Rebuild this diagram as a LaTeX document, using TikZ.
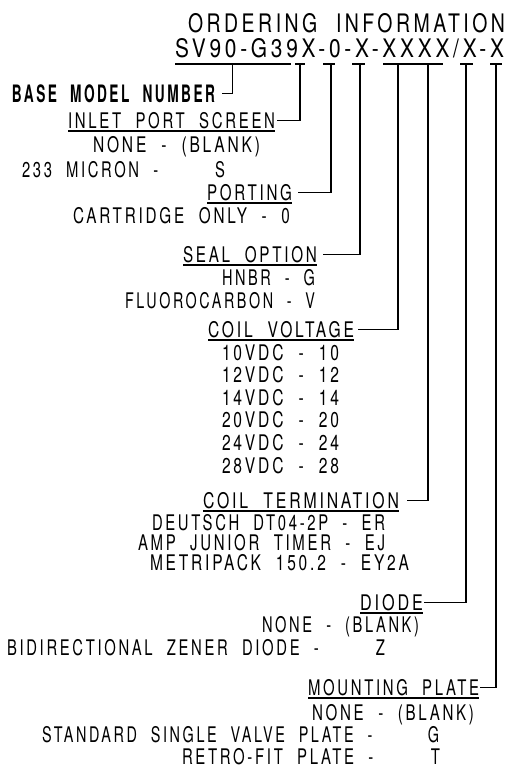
\documentclass[tikz,border=0pt]{standalone}
\usepackage{fontspec}
\usepackage{graphicx}
\setmainfont[WordSpace=2.1,LetterSpace=18]{TeX Gyre Heros}
\newcommand\fitto[2]{\resizebox{#1pt}{\height}{#2}}
\begin{document}
\begin{tikzpicture}[x=1pt,y=-1pt,
  lbl/.style={inner sep=0pt,outer sep=0pt,anchor=base west,font=\fontsize{21.5}{22}\selectfont},
  hdr/.style={lbl,font=\fontsize{25.5}{26}\selectfont},
  bld/.style={lbl,font=\fontsize{24}{25}\selectfont\bfseries},
  ld/.style={line width=1.1pt,black},
  ul/.style={line width=1.1pt,black}]
\useasboundingbox (0,0) rectangle (506,768);

% title and code
\node[hdr] (title) at (188,33) {\fitto{317}{ORDERING INFORMATION}};
\node[hdr] (code) at (175,58) {\fitto{329}{SV90-G39X-0-X-XXXX/X-X}};
\foreach \a/\b in {175/291,295/305,323/335,352/365,383/443,460/473,490/502}
  \draw[ul] (\a,64) -- (\b,64);

% leader tops
\coordinate (kBase) at (232.7,64);
\coordinate (kInlet) at (300,64);
\coordinate (kPort) at (331,64);
\coordinate (kSeal) at (360,64);
\coordinate (kVolt) at (398,64);
\coordinate (kTerm) at (428,64);
\coordinate (kDiode) at (466,64);
\coordinate (kMount) at (496,64);

% labels
\node[bld] (base) at (12,102) {\fitto{203}{BASE MODEL NUMBER}};
\node[lbl] (inlet) at (68,128) {\fitto{207}{INLET PORT SCREEN}};
\node[lbl] (in1) at (93,152) {\fitto{167}{NONE - (BLANK)}};
\node[lbl] (in2) at (22,177) {\fitto{203}{233 MICRON -~~~~S}};
\node[lbl] (port) at (207,200) {\fitto{85}{PORTING}};
\node[lbl] (po1) at (73,223) {\fitto{217}{CARTRIDGE ONLY - 0}};
\node[lbl] (seal) at (183,262) {\fitto{134}{SEAL OPTION}};
\node[lbl] (se1) at (222,285) {\fitto{93}{HNBR - G}};
\node[lbl] (se2) at (125,308) {\fitto{190}{FLUOROCARBON - V}};
\node[lbl] (volt) at (208,337) {\fitto{146}{COIL VOLTAGE}};
\node[lbl] (v1) at (222,360) {\fitto{117}{10VDC - 10}};
\node[lbl] (v2) at (222,382.6) {\fitto{117}{12VDC - 12}};
\node[lbl] (v3) at (222,405.2) {\fitto{117}{14VDC - 14}};
\node[lbl] (v4) at (222,427.8) {\fitto{117}{20VDC - 20}};
\node[lbl] (v5) at (222,450.4) {\fitto{117}{24VDC - 24}};
\node[lbl] (v6) at (222,473) {\fitto{117}{28VDC - 28}};
\node[lbl] (term) at (203,508) {\fitto{196}{COIL TERMINATION}};
\node[lbl] (t1) at (152,530) {\fitto{233}{DEUTSCH DT04-2P - ER}};
\node[lbl] (t2) at (138,550) {\fitto{247}{AMP JUNIOR TIMER - EJ}};
\node[lbl] (t3) at (150,570) {\fitto{259}{METRIPACK 150.2 - EY2A}};
\node[lbl] (diode) at (360,610) {\fitto{63}{DIODE}};
\node[lbl] (d1) at (262,632) {\fitto{157}{NONE - (BLANK)}};
\node[lbl] (d2) at (7,655) {\fitto{378}{BIDIRECTIONAL ZENER DIODE -~~~~Z}};
\node[lbl] (mount) at (308,695) {\fitto{171}{MOUNTING PLATE}};
\node[lbl] (m1) at (312,720) {\fitto{162}{NONE - (BLANK)}};
\node[lbl] (m2) at (42,742) {\fitto{397}{STANDARD SINGLE VALVE PLATE -~~~~G}};
\node[lbl] (m3) at (182,764.5) {\fitto{258}{RETRO-FIT PLATE -~~~~T}};

% label underlines
\foreach \n in {inlet,port,seal,volt,term,diode,mount}
  \draw[ul] ([yshift=-3pt]\n.base west) -- ([yshift=-3pt]\n.base east);

% leaders
\draw[ld] (kBase) |- ([xshift=7pt]base.east);
\draw[ld] (kInlet) |- ([xshift=2pt]inlet.east);
\draw[ld] (kPort) |- ([xshift=6pt]port.east);
\draw[ld] (kSeal) |- ([xshift=6pt]seal.east);
\draw[ld] (kVolt) |- ([xshift=4pt]volt.east);
\draw[ld] (kTerm) |- ([xshift=8pt]term.east);
\draw[ld] (kDiode) |- ([xshift=1pt]diode.east);
\draw[ld] (kMount) |- ([xshift=1pt]mount.east);
\end{tikzpicture}
\end{document}
